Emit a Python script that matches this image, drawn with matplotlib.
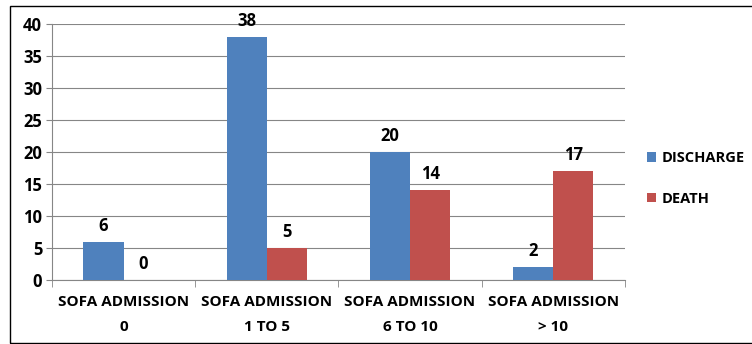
import matplotlib.pyplot as plt
import matplotlib.patches as mpatches
import numpy as np

# chart data
categories = ['SOFA ADMISSION\n0', 'SOFA ADMISSION\n1 TO 5', 'SOFA ADMISSION\n6 TO 10', 'SOFA ADMISSION\n> 10']
discharge = [6, 38, 20, 2]
death = [0, 5, 14, 17]

plt.rcParams['font.family'] = ['Open Sans', 'DejaVu Sans']
plt.rcParams['font.weight'] = 'bold'

fig = plt.figure(figsize=(7.52, 3.44), dpi=100)
ax = fig.add_axes([0.069, 0.186, 0.762, 0.744])

x = np.arange(len(categories))
w = 0.28
b1 = ax.bar(x - w / 2, discharge, w, color='#4F81BD', label='DISCHARGE', zorder=3)
b2 = ax.bar(x + w / 2, death, w, color='#C0504D', label='DEATH', zorder=3)

for bars, vals in [(b1, discharge), (b2, death)]:
    for r, v in zip(bars, vals):
        ax.annotate(str(v), (r.get_x() + r.get_width() / 2, v), xytext=(0, 5),
                    textcoords='offset points', ha='center', va='bottom',
                    fontsize=12, fontweight='bold')

ax.set_xlim(-0.5, 3.5)
ax.set_ylim(0, 40)
ax.set_yticks(range(0, 41, 5))
ax.set_xticks(x)
ax.set_xticklabels(categories, fontsize=11, fontweight='bold', linespacing=2.0)
ax.set_xticks(np.arange(-0.5, 4, 1), minor=True)
ax.tick_params(axis='x', which='major', length=0, pad=11)
ax.tick_params(axis='x', which='minor', length=5, color='#868686', direction='out')
ax.tick_params(axis='y', length=4, color='#868686', labelsize=12, pad=3)
for lbl in ax.get_yticklabels():
    lbl.set_fontweight('bold')

ax.grid(axis='y', color='#868686', linewidth=0.8, zorder=0)
for s in ['top', 'right']:
    ax.spines[s].set_visible(False)
for s in ['left', 'bottom']:
    ax.spines[s].set_color('#868686')

fig.legend(loc='upper left', bbox_to_anchor=(0.860, 0.56), frameon=False,
           fontsize=10.5, handlelength=0.65, handleheight=0.65, handletextpad=0.35,
           labelspacing=1.8, borderaxespad=0, borderpad=0)

# outer frame
fig.patches.append(mpatches.Rectangle((10 / 752, 0.002), 1, 1 - 6 / 344 - 0.002,
                                      transform=fig.transFigure, fill=False,
                                      edgecolor='black', linewidth=1))

fig.savefig('out.png', dpi=100)
